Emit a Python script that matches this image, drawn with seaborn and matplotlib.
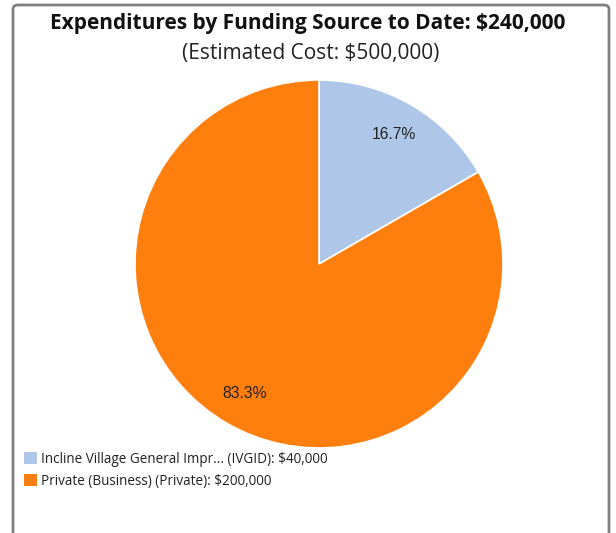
# pie of expenditures by funding source

import matplotlib
matplotlib.use('Agg')
import matplotlib.pyplot as plt
import seaborn as sns
from matplotlib.patches import FancyBboxPatch, Patch

# data
sources = ['Incline Village General Impr... (IVGID)', 'Private (Business) (Private)']
amounts = [40000, 200000]
title = 'Expenditures by Funding Source to Date: $240,000'
subtitle = '(Estimated Cost: $500,000)'

sns.set_style('white')
plt.rcParams['font.family'] = ['Open Sans', 'DejaVu Sans']

pal = sns.color_palette('tab20')
colors = [pal[1], pal[2]]

W, H = 616, 533
fig = plt.figure(figsize=(W / 100, H / 100), dpi=100)

# frame around the chart
frame = FancyBboxPatch((13 / W, -0.05), (609 - 13) / W, 1 - 5 / H + 0.05,
                       boxstyle='round,pad=0,rounding_size=0.008',
                       transform=fig.transFigure, fill=False,
                       edgecolor='#808080', linewidth=2)
fig.patches.append(frame)

# pie axes: center (319, 264), radius 184 px
r = 184
ax = fig.add_axes([(319 - r) / W, (H - 264 - r) / H, 2 * r / W, 2 * r / H])
wedges, texts, autotexts = ax.pie(amounts, colors=colors, startangle=90, counterclock=False,
                                  autopct='%.1f%%', pctdistance=0.81,
                                  wedgeprops=dict(edgecolor='white', linewidth=1.2),
                                  textprops=dict(fontsize=11.3, color='#222222',
                                                 family='Liberation Sans'))
ax.set_xlim(-1, 1)
ax.set_ylim(-1, 1)
ax.set_aspect('equal')
ax.axis('off')

fig.text(308 / W, 1 - 23 / H, title, ha='center', va='center',
         fontsize=15, fontweight='bold', color='#111111')
fig.text(311 / W, 1 - 53 / H, subtitle, ha='center', va='center',
         fontsize=15, color='#222222')

labels = [f'{s}: ${a:,.0f}' for s, a in zip(sources, amounts)]
handles = [Patch(facecolor=c, edgecolor='none') for c in colors]
fig.legend(handles, labels, loc='upper left', bbox_to_anchor=(24 / W, 1 - 452 / H),
           frameon=False, fontsize=9.75, handlelength=0.97, handleheight=0.97,
           handletextpad=0.32, borderpad=0, borderaxespad=0, labelspacing=0.5,
           labelcolor='#222222')

plt.savefig('out.png', dpi=100)
